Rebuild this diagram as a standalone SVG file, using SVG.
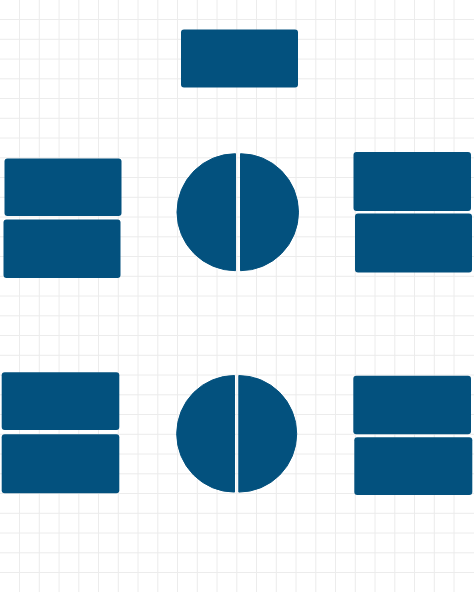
<svg xmlns="http://www.w3.org/2000/svg" width="474" height="592" viewBox="0 0 474 592">
  <style>
    .shape { fill: #03517e; }
    .half { fill: #03517e; stroke: #03517e; stroke-width: 1; stroke-linejoin: round; }
    .grid { fill: none; stroke: #ececec; stroke-width: 1; }
  </style>
  <rect x="0" y="0" width="474" height="592" fill="#ffffff"/>
  <path class="grid" d="M19.5,0V592 M39.3,0V592 M59.1,0V592 M78.8,0V592 M98.5,0V592 M118.3,0V592 M138,0V592 M157.8,0V592 M177.5,0V592 M197.3,0V592 M217,0V592 M236.8,0V592 M256.5,0V592 M276.3,0V592 M296,0V592 M315.8,0V592 M335.5,0V592 M355.3,0V592 M375,0V592 M394.8,0V592 M414.5,0V592 M434.3,0V592 M454,0V592
    M0,19.5H474 M0,39.3H474 M0,59.1H474 M0,78.8H474 M0,98.5H474 M0,118.3H474 M0,138H474 M0,157.8H474 M0,177.5H474 M0,197.3H474 M0,217H474 M0,236.8H474 M0,256.5H474 M0,276.3H474 M0,296H474 M0,315.8H474 M0,335.5H474 M0,355.3H474 M0,375H474 M0,394.8H474 M0,414.5H474 M0,434.3H474 M0,454H474 M0,473.8H474 M0,493.5H474 M0,513.3H474 M0,533H474 M0,552.8H474 M0,572.5H474"/>

  <g id="connectors"></g>

  <g id="top-block">
    <rect class="shape" x="181" y="29.5" width="117" height="58" rx="3"/>
  </g>

  <g id="left-upper-stack">
    <rect class="shape" x="4.5" y="158.5" width="117" height="57.5" rx="3"/>
    <rect class="shape" x="3.5" y="219.5" width="117" height="58.5" rx="3"/>
  </g>

  <g id="upper-circle">
    <path class="half" d="M235.5,153.7 A58.5,58.5 0 0 0 235.5,270.7 Z"/>
    <path class="half" d="M240.5,153.7 A58,58.5 0 0 1 240.5,270.7 Z"/>
  </g>

  <g id="right-upper-stack">
    <rect class="shape" x="353.5" y="152" width="117.5" height="59" rx="3"/>
    <rect class="shape" x="355" y="213.5" width="117" height="59" rx="3"/>
  </g>

  <g id="left-lower-stack">
    <rect class="shape" x="1.7" y="372.3" width="117.6" height="57.7" rx="3"/>
    <rect class="shape" x="1.7" y="434.3" width="117.6" height="59" rx="3"/>
  </g>

  <g id="lower-circle">
    <path class="half" d="M234.5,375.5 A57.8,58.3 0 0 0 234.5,492.1 Z"/>
    <path class="half" d="M238.8,375.5 A57.9,58.3 0 0 1 238.8,492.1 Z"/>
  </g>

  <g id="right-lower-stack">
    <rect class="shape" x="353.3" y="375.7" width="117.7" height="58.6" rx="3"/>
    <rect class="shape" x="354.3" y="437.3" width="118" height="57.7" rx="3"/>
  </g>
</svg>
